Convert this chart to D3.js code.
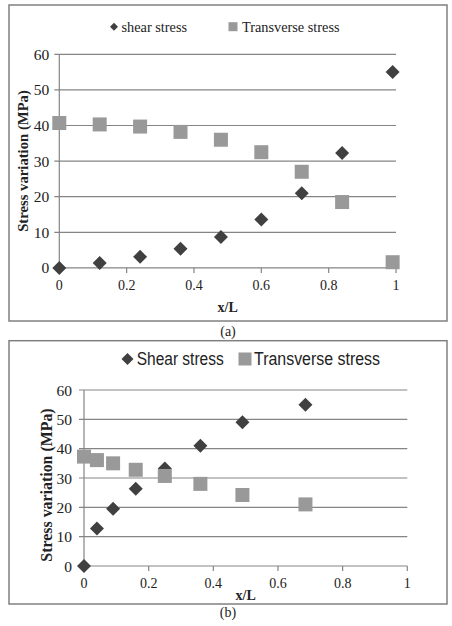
<!DOCTYPE html>
<html>
<head>
<meta charset="utf-8">
<script src="https://cdn.jsdelivr.net/npm/d3@7"></script>
<style>
  body { margin: 0; background: #fff; }
  svg { display: block; }
</style>
</head>
<body>
<div id="chart"></div>
<script>
// data
var xA = [0, 0.12, 0.24, 0.36, 0.48, 0.6, 0.72, 0.84, 0.99]
var shearA = [0, 1.4, 3.1, 5.4, 8.7, 13.6, 21.0, 32.3, 55]
var transA = [40.7, 40.3, 39.7, 38.2, 36.0, 32.5, 27.0, 18.5, 1.6]

var xB = [0, 0.04, 0.09, 0.16, 0.25, 0.36, 0.49, 0.685]
var shearB = [0, 12.8, 19.5, 26.3, 33.2, 41, 49, 55]
var transB = [37.3, 36.1, 35.0, 32.8, 30.7, 28.0, 24.2, 21.0]

var xTicks = [0, 0.2, 0.4, 0.6, 0.8, 1]
var yTicks = [0, 10, 20, 30, 40, 50, 60]
var xTickLabels = ["0", "0.2", "0.4", "0.6", "0.8", "1"]

var serif = "'Liberation Serif', 'Times New Roman', serif"
var sans = "'Liberation Sans', Arial, sans-serif"
var darkCol = "#404040"
var lightCol = "#999999"
var gridCol = "#858585"

var svg = d3.select("#chart")
    .append("svg")
    .attr("width", 452)
    .attr("height", 626)

function drawPanel(p) {
    // outer frame
    svg.append("rect")
        .attr("x", p.box[0]).attr("y", p.box[1])
        .attr("width", p.box[2]).attr("height", p.box[3])
        .style("fill", "none")
        .style("stroke", "#808080")
        .style("stroke-width", 1.5)

    var x = d3.scaleLinear().domain([0, 1]).range([p.left, p.right])
    var y = d3.scaleLinear().domain([0, 60]).range([p.bottom, p.top])

    var g = svg.append("g")

    // gridlines (they run a bit left of the axis like ticks)
    g.selectAll(".grid")
        .data(yTicks)
        .enter()
        .append("line")
        .attr("x1", p.left - 5)
        .attr("x2", p.right)
        .attr("y1", d => y(d))
        .attr("y2", d => y(d))
        .style("stroke", gridCol)
        .style("stroke-width", 1.2)

    // y axis line
    g.append("line")
        .attr("x1", p.left).attr("x2", p.left)
        .attr("y1", p.top).attr("y2", p.bottom)
        .style("stroke", gridCol)
        .style("stroke-width", 1.2)

    // x ticks
    g.selectAll(".xt")
        .data(xTicks)
        .enter()
        .append("line")
        .attr("x1", d => x(d)).attr("x2", d => x(d))
        .attr("y1", p.bottom).attr("y2", p.bottom + 5)
        .style("stroke", gridCol)
        .style("stroke-width", 1.2)

    g.selectAll(".xl")
        .data(xTicks)
        .enter()
        .append("text")
        .attr("x", d => x(d))
        .attr("y", p.bottom + 22)
        .attr("text-anchor", "middle")
        .style("font-family", serif)
        .style("font-size", "14px")
        .style("fill", "#222")
        .text((d, i) => xTickLabels[i])

    g.selectAll(".yl")
        .data(yTicks)
        .enter()
        .append("text")
        .attr("x", p.left - p.yLabelOff)
        .attr("y", d => y(d) + 5.5)
        .attr("text-anchor", "end")
        .style("font-family", serif)
        .style("font-size", "15.5px")
        .style("fill", "#222")
        .text(d => d)

    // axis titles
    g.append("text")
        .attr("x", (p.left + p.right) / 2)
        .attr("y", p.xTitleY)
        .attr("text-anchor", "middle")
        .style("font-family", serif)
        .style("font-weight", "bold")
        .style("font-size", "14px")
        .style("fill", "#222")
        .text("x/L")

    g.append("text")
        .attr("transform", "translate(" + p.yTitleX + "," + p.yTitleMid + ") rotate(-90)")
        .attr("text-anchor", "middle")
        .style("font-family", serif)
        .style("font-weight", "bold")
        .style("font-size", p.titleSize + "px")
        .style("fill", "#222")
        .text("Stress variation (MPa)")

    // transverse stress squares
    var s = 14
    g.selectAll(".sq")
        .data(p.xs)
        .enter()
        .append("rect")
        .attr("x", d => x(d) - s / 2)
        .attr("y", (d, i) => y(p.trans[i]) - s / 2)
        .attr("width", s)
        .attr("height", s)
        .style("fill", lightCol)

    // shear stress diamonds
    var diamond = d3.symbol().type(d3.symbolSquare).size(98)
    g.selectAll(".dm")
        .data(p.xs)
        .enter()
        .append("path")
        .attr("d", diamond)
        .attr("transform", (d, i) => "translate(" + x(d) + "," + y(p.shear[i]) + ") rotate(45)")
        .style("fill", darkCol)

    // in (b) the squares sit over the diamonds
    if (p.squaresOnTop) g.selectAll("rect").raise()

    // legend
    var lg = svg.append("g")
    lg.append("path")
        .attr("d", d3.symbol().type(d3.symbolSquare).size(p.legDiamond))
        .attr("transform", "translate(" + p.legend[0] + "," + p.legend[1] + ") rotate(45)")
        .style("fill", darkCol)
    var t1 = lg.append("text")
        .attr("x", p.legend[2])
        .attr("y", p.legend[1] + p.legSize * 0.35)
        .style("font-family", p.legFont)
        .style("font-size", p.legSize + "px")
        .style("fill", "#222")
        .text(p.names[0])
    lg.append("rect")
        .attr("x", p.legend[3] - p.legSq / 2)
        .attr("y", p.legend[1] - p.legSq / 2)
        .attr("width", p.legSq)
        .attr("height", p.legSq)
        .style("fill", lightCol)
    var t2 = lg.append("text")
        .attr("x", p.legend[4])
        .attr("y", p.legend[1] + p.legSize * 0.35)
        .style("font-family", p.legFont)
        .style("font-size", p.legSize + "px")
        .style("fill", "#222")
        .text(p.names[1])
    if (p.legWidths) {
        // the original font is narrower than anything installed
        t1.attr("textLength", p.legWidths[0]).attr("lengthAdjust", "spacingAndGlyphs")
        t2.attr("textLength", p.legWidths[1]).attr("lengthAdjust", "spacingAndGlyphs")
    }

    // caption
    svg.append("text")
        .attr("x", 228)
        .attr("y", p.captionY)
        .attr("text-anchor", "middle")
        .style("font-family", serif)
        .style("font-size", "14px")
        .style("fill", "#222")
        .text(p.caption)
}

drawPanel({
    box: [9, 5, 438, 316],
    left: 59.3, right: 396, top: 54.3, bottom: 267.9,
    xs: xA, shear: shearA, trans: transA,
    yLabelOff: 10, titleSize: 14.7,
    xTitleY: 312, yTitleX: 28, yTitleMid: 161,
    legend: [114, 26.7, 121.5, 233, 242],
    legFont: serif, legSize: 14.3, legDiamond: 32, legSq: 9,
    names: ["shear stress", "Transverse stress"],
    captionY: 336, caption: "(a)",
    squaresOnTop: false
})

drawPanel({
    box: [9, 340.7, 438, 263.3],
    left: 84, right: 407.3, top: 390, bottom: 566,
    xs: xB, shear: shearB, trans: transB,
    yLabelOff: 12, titleSize: 15.9,
    xTitleY: 600, yTitleX: 51.5, yTitleMid: 485,
    legend: [127.5, 359, 136.7, 245, 254],
    legFont: sans, legSize: 17.5, legDiamond: 72, legSq: 13,
    legWidths: [87, 126],
    names: ["Shear stress", "Transverse stress"],
    captionY: 617, caption: "(b)",
    squaresOnTop: true
})
</script>
</body>
</html>
